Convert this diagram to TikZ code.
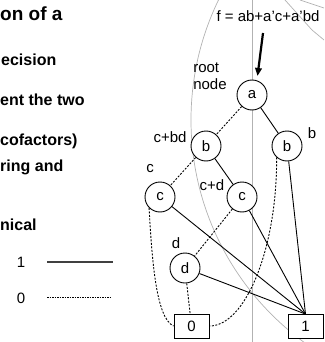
\documentclass[tikz,border=0pt]{standalone}
\usepackage{fontspec}
\setmainfont{Liberation Sans}
\usetikzlibrary{arrows.meta}
\begin{document}
\begin{tikzpicture}[x=1pt,y=-1pt,
  bdd/.style={circle,draw,fill=white,minimum size=30pt,inner sep=0pt,line width=0.9pt,font=\fontsize{15}{18}\selectfont},
  term/.style={rectangle,draw,fill=white,minimum width=35pt,minimum height=24pt,inner sep=0pt,line width=0.9pt,font=\fontsize{15}{18}\selectfont},
  lbl/.style={inner sep=0pt,font=\fontsize{15}{17}\selectfont},
  hi/.style={line width=0.9pt},
  lo/.style={line width=0.9pt,dash pattern=on 2pt off 1.5pt},
  bg/.style={draw=black!30,line width=0.7pt},
  body/.style={inner sep=0pt,anchor=base west,font=\bfseries\fontsize{16}{19}\selectfont}]
\useasboundingbox (0,0) rectangle (324,342);
\clip (0,0) rectangle (324,342);
% background lines
\draw[bg] (252,0) -- (252,342);
\draw[bg] (466,120) circle[radius=275];
\draw[bg] (285,0) -- (312,30) -- (324,40);
\draw[bg] (300,0) -- (324,8);
% left text
\node[body,font=\bfseries\fontsize{19}{22}\selectfont] (t1) at (0,21) {on of a};
\node[body] (t2) at (1,66) {ecision};
\node[body] (t3) at (0,106) {ent the two};
\node[body] (t4) at (0,145) {cofactors)};
\node[body] (t5) at (0,171) {ring and};
\node[body] (t6) at (0,230) {nical};
% legend
\node[lbl] (leg1) at (21,262) {1};
\node[lbl] (leg0) at (21,298) {0};
\coordinate (l1a) at (47,262);
\coordinate (l1b) at (113,262);
\coordinate (l0a) at (47,297);
\coordinate (l0b) at (112,297);
\draw[line width=1.2pt,black!75] (l1a) -- (l1b);
\draw[line width=0.8pt,dash pattern=on 1.5pt off 1pt] (l0a) -- (l0b);
% nodes
\node[bdd] (a) at (252,95) {a};
\node[bdd] (bL) at (206,146) {b};
\node[bdd] (bR) at (287,146) {b};
\node[bdd] (cL) at (160,197) {c};
\node[bdd] (cR) at (242,197) {c};
\node[bdd] (d) at (185,268) {d};
\node[term] (zero) at (191.5,326) {0};
\node[term] (one) at (305.5,326.5) {1};
% labels
\node[lbl] (flbl) at (268,16) {f = ab+a’c+a’bd};
\node[lbl,align=left] (root) at (210,76) {root\\node};
\node[lbl] (lbd) at (170,137) {c+bd};
\node[lbl] (lb) at (312,133) {b};
\node[lbl] (lc) at (150,169) {c};
\node[lbl] (lcd) at (212,185) {c+d};
\node[lbl] (ld) at (176,243) {d};
% arrow
\coordinate (fs) at (263,33);
\coordinate (ft) at (257.5,76);
\draw[line width=2.2pt,-{Triangle[length=8pt,width=6.5pt]}] (fs) -- (ft);
% edges
\draw[lo] (a) -- (bL);
\draw[hi] (a) -- (bR);
\draw[lo] (bL) -- (cL);
\draw[hi] (bL) -- (cR);
\draw[lo] (bR.-132) .. controls (277,250) and (245,326) .. (zero.east);
\draw[hi] (bR) -- (one.north);
\draw[lo] (cL.-135) .. controls (152,260) and (156,318) .. (zero.west);
\draw[hi] (cL) -- (one.north);
\draw[lo] (cR) -- (d);
\draw[hi] (cR) -- (one.north);
\draw[lo] (d) -- (zero);
\draw[hi] (d) -- (one.north);
\end{tikzpicture}
\end{document}
